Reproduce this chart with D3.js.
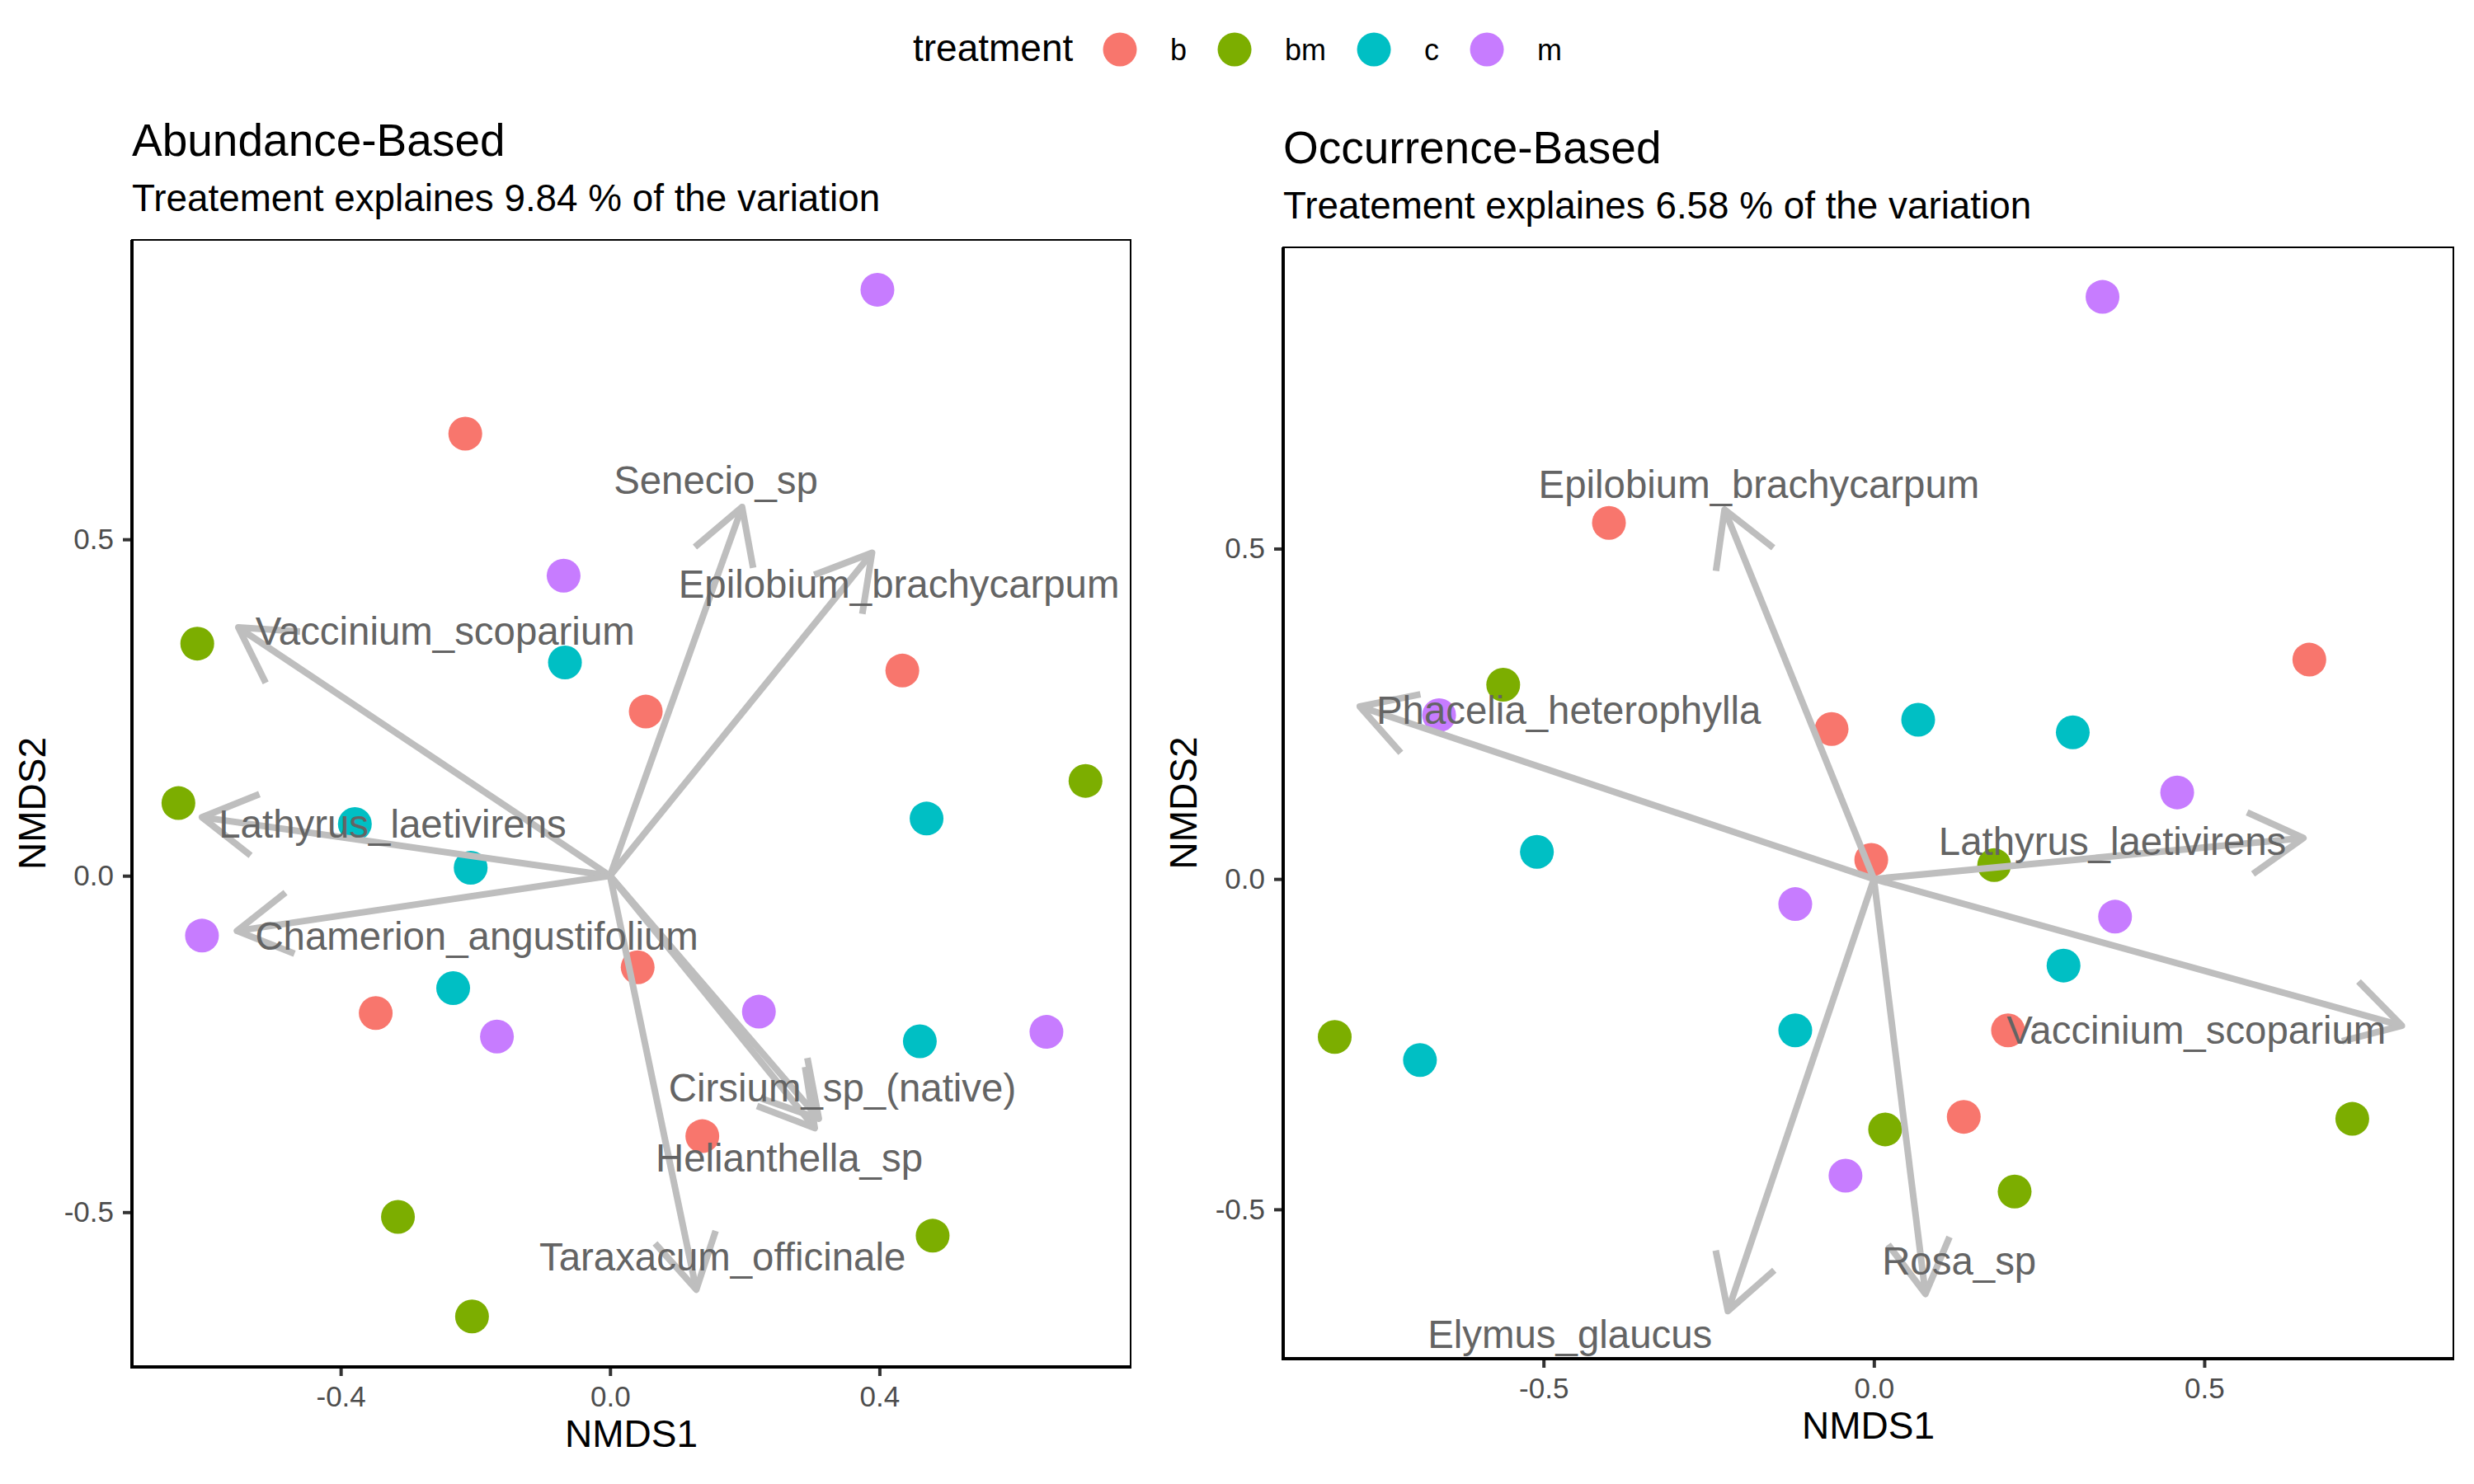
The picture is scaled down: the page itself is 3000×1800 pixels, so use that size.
<!DOCTYPE html>
<html>
<head>
<meta charset="utf-8">
<script src="https://cdn.jsdelivr.net/npm/d3@7"></script>
<style>
  body { margin: 0; background: #fff; }
  text { font-family: "Liberation Sans", Arial, sans-serif; }
</style>
</head>
<body>
<div id="chart"></div>
<script>
const WIDTH = 3000
const HEIGHT = 1800

// treatment levels and their colours
const treatments = ['b', 'bm', 'c', 'm']
const treatmentColors = ['#F8766D', '#7CAE00', '#00BFC4', '#C77CFF']

// Abundance-Based NMDS site scores
const abundX = [0.397, -0.215, -0.069, -0.613, -0.067, 0.053, 0.434, 0.706, -0.641, -0.379, -0.207, 0.470,
                -0.606, 0.041, -0.233, -0.348, -0.168, 0.221, 0.460, 0.648, 0.137, -0.315, 0.479, -0.205]
const abundY = [0.871, 0.657, 0.446, 0.345, 0.317, 0.244, 0.305, 0.141, 0.108, 0.077, 0.012, 0.085,
                -0.089, -0.136, -0.167, -0.204, -0.239, -0.202, -0.246, -0.232, -0.387, -0.507, -0.535, -0.655]
const abundTrt = ['m', 'b', 'm', 'bm', 'c', 'b', 'b', 'bm', 'bm', 'c', 'c', 'c',
                  'm', 'b', 'c', 'b', 'm', 'm', 'c', 'm', 'b', 'bm', 'bm', 'bm']

// Abundance-Based species vectors
const abundSpecies = ['Senecio_sp', 'Epilobium_brachycarpum', 'Vaccinium_scoparium', 'Lathyrus_laetivirens',
                      'Chamerion_angustifolium', 'Cirsium_sp_(native)', 'Helianthella_sp', 'Taraxacum_officinale']
const abundVecX = [0.196, 0.389, -0.552, -0.606, -0.554, 0.310, 0.304, 0.128]
const abundVecY = [0.548, 0.480, 0.369, 0.087, -0.082, -0.361, -0.375, -0.615]
const abundLabX = [0.157, 0.429, -0.245, -0.323, -0.198, 0.345, 0.266, 0.167]
const abundLabY = [0.589, 0.434, 0.364, 0.078, -0.089, -0.315, -0.419, -0.566]

// Occurrence-Based NMDS site scores
const occX = [0.346, -0.401, 0.659, -0.561, -0.658, -0.064, 0.067, 0.301, 0.459, -0.510, -0.004, 0.182,
              -0.119, 0.365, 0.287, -0.119, 0.203, -0.816, -0.687, 0.136, 0.017, 0.724, -0.043, 0.213]
const occY = [0.881, 0.539, 0.332, 0.294, 0.248, 0.227, 0.241, 0.222, 0.131, 0.041, 0.029, 0.021,
              -0.038, -0.057, -0.131, -0.229, -0.229, -0.239, -0.274, -0.360, -0.379, -0.363, -0.449, -0.473]
const occTrt = ['m', 'b', 'b', 'bm', 'm', 'b', 'c', 'c', 'm', 'c', 'b', 'bm',
                'm', 'm', 'c', 'c', 'b', 'bm', 'c', 'b', 'bm', 'bm', 'm', 'bm']

// Occurrence-Based species vectors
const occSpecies = ['Epilobium_brachycarpum', 'Phacelia_heterophylla', 'Lathyrus_laetivirens',
                    'Vaccinium_scoparium', 'Rosa_sp', 'Elymus_glaucus']
const occVecX = [-0.226, -0.778, 0.650, 0.799, 0.078, -0.221]
const occVecY = [0.559, 0.261, 0.062, -0.222, -0.628, -0.654]
const occLabX = [-0.174, -0.462, 0.361, 0.488, 0.129, -0.460]
const occLabY = [0.598, 0.256, 0.058, -0.228, -0.578, -0.688]

// tick values
const abundXTicks = [-0.4, 0.0, 0.4]
const abundYTicks = [-0.5, 0.0, 0.5]
const occXTicks = [-0.5, 0.0, 0.5]
const occYTicks = [-0.5, 0.0, 0.5]

const colorScale = d3.scaleOrdinal().domain(treatments).range(treatmentColors)

const svg = d3.select('#chart')
    .append('svg')
        .attr('width', WIDTH)
        .attr('height', HEIGHT)

function drawPanel(cfg) {
    const x = d3.scaleLinear().domain(cfg.xDomain).range([cfg.left, cfg.right])
    const y = d3.scaleLinear().domain(cfg.yDomain).range([cfg.bottom, cfg.top])
    const g = svg.append('g')

    // titulo y subtitulo
    g.append('text')
        .attr('x', cfg.left).attr('y', cfg.top - 102)
        .style('font-size', '55px').attr('fill', '#000')
        .text(cfg.title)
    g.append('text')
        .attr('x', cfg.left).attr('y', cfg.top - 35)
        .style('font-size', '45.8px').attr('fill', '#000')
        .text(cfg.subtitle)

    // puntos
    const sites = cfg.xs.map((v, i) => ({x: v, y: cfg.ys[i], t: cfg.trt[i]}))
    g.selectAll('circle.site').data(sites).enter().append('circle')
        .attr('class', 'site')
        .attr('cx', d => x(d.x))
        .attr('cy', d => y(d.y))
        .attr('r', 20.5)
        .attr('fill', d => colorScale(d.t))

    // flechas de especies
    const vecs = cfg.species.map((s, i) => ({s: s, x: cfg.vx[i], y: cfg.vy[i], lx: cfg.lx[i], ly: cfg.ly[i]}))
    const x0 = x(0), y0 = y(0)
    const headLen = 75, headAng = Math.PI / 6
    vecs.forEach(d => {
        const tx = x(d.x), ty = y(d.y)
        const ang = Math.atan2(ty - y0, tx - x0)
        g.append('line')
            .attr('x1', x0).attr('y1', y0).attr('x2', tx).attr('y2', ty)
            .attr('stroke', '#BEBEBE').attr('stroke-width', 8)
        const b1 = [tx - headLen * Math.cos(ang - headAng), ty - headLen * Math.sin(ang - headAng)]
        const b2 = [tx - headLen * Math.cos(ang + headAng), ty - headLen * Math.sin(ang + headAng)]
        g.append('path')
            .attr('d', `M${b1[0]},${b1[1]}L${tx},${ty}L${b2[0]},${b2[1]}`)
            .attr('fill', 'none')
            .attr('stroke', '#BEBEBE').attr('stroke-width', 8)
            .attr('stroke-linejoin', 'round')
    })
    g.selectAll('text.species').data(vecs).enter().append('text')
        .attr('class', 'species')
        .attr('x', d => x(d.lx))
        .attr('y', d => y(d.ly))
        .attr('dy', '0.36em')
        .attr('text-anchor', 'middle')
        .style('font-size', '47.4px')
        .attr('fill', '#646464')
        .text(d => d.s)

    // borde del panel
    g.append('rect')
        .attr('x', cfg.left).attr('y', cfg.top)
        .attr('width', cfg.right - cfg.left).attr('height', cfg.bottom - cfg.top)
        .attr('fill', 'none').attr('stroke', '#000').attr('stroke-width', 2)

    // ejes
    const fmt = d => d.toFixed(1)
    const xAxis = g.append('g')
        .attr('transform', `translate(0,${cfg.bottom})`)
        .call(d3.axisBottom(x).tickValues(cfg.xTicks).tickFormat(fmt).tickSize(11).tickPadding(12))
    const yAxis = g.append('g')
        .attr('transform', `translate(${cfg.left},0)`)
        .call(d3.axisLeft(y).tickValues(cfg.yTicks).tickFormat(fmt).tickSize(11).tickPadding(11))
    ;[xAxis, yAxis].forEach(a => {
        a.select('.domain').remove()
        a.selectAll('.tick line').attr('stroke', '#333333').attr('stroke-width', 4)
        a.selectAll('.tick text')
            .attr('fill', '#4D4D4D')
            .style('font-size', '35px')
            .style('font-family', '"Liberation Sans", Arial, sans-serif')
    })
    g.append('line')
        .attr('x1', cfg.left).attr('x2', cfg.left)
        .attr('y1', cfg.top).attr('y2', cfg.bottom + 2)
        .attr('stroke', '#000').attr('stroke-width', 4)
    g.append('line')
        .attr('x1', cfg.left - 2).attr('x2', cfg.right + 1)
        .attr('y1', cfg.bottom).attr('y2', cfg.bottom)
        .attr('stroke', '#000').attr('stroke-width', 4)

    // nombres de ejes
    g.append('text')
        .attr('x', (cfg.left + cfg.right) / 2)
        .attr('y', cfg.bottom + 97)
        .attr('text-anchor', 'middle')
        .style('font-size', '46px')
        .text('NMDS1')
    g.append('text')
        .attr('transform', `translate(${cfg.left - 105},${(cfg.top + cfg.bottom) / 2}) rotate(-90)`)
        .attr('text-anchor', 'middle')
        .style('font-size', '46px')
        .text('NMDS2')
}

drawPanel({
    left: 160, right: 1371, top: 291, bottom: 1658,
    xDomain: [-0.710, 0.773], yDomain: [-0.730, 0.945],
    title: 'Abundance-Based',
    subtitle: 'Treatement explaines 9.84 % of the variation',
    xs: abundX, ys: abundY, trt: abundTrt,
    species: abundSpecies, vx: abundVecX, vy: abundVecY, lx: abundLabX, ly: abundLabY,
    xTicks: abundXTicks, yTicks: abundYTicks
})

drawPanel({
    left: 1556, right: 2975, top: 300, bottom: 1648,
    xDomain: [-0.894, 0.877], yDomain: [-0.726, 0.956],
    title: 'Occurrence-Based',
    subtitle: 'Treatement explaines 6.58 % of the variation',
    xs: occX, ys: occY, trt: occTrt,
    species: occSpecies, vx: occVecX, vy: occVecY, lx: occLabX, ly: occLabY,
    xTicks: occXTicks, yTicks: occYTicks
})

// leyenda
const legend = svg.append('g')
legend.append('text')
    .attr('x', 1107).attr('y', 74)
    .style('font-size', '46px')
    .text('treatment')
let lx = 1358
treatments.forEach((t, i) => {
    legend.append('circle')
        .attr('cx', lx).attr('cy', 60).attr('r', 20.5)
        .attr('fill', treatmentColors[i])
    const lab = legend.append('text')
        .attr('x', lx + 61).attr('y', 73)
        .style('font-size', '36px')
        .text(t)
    lx = lx + 61 + lab.node().getComputedTextLength() + 58
})
</script>
</body>
</html>
